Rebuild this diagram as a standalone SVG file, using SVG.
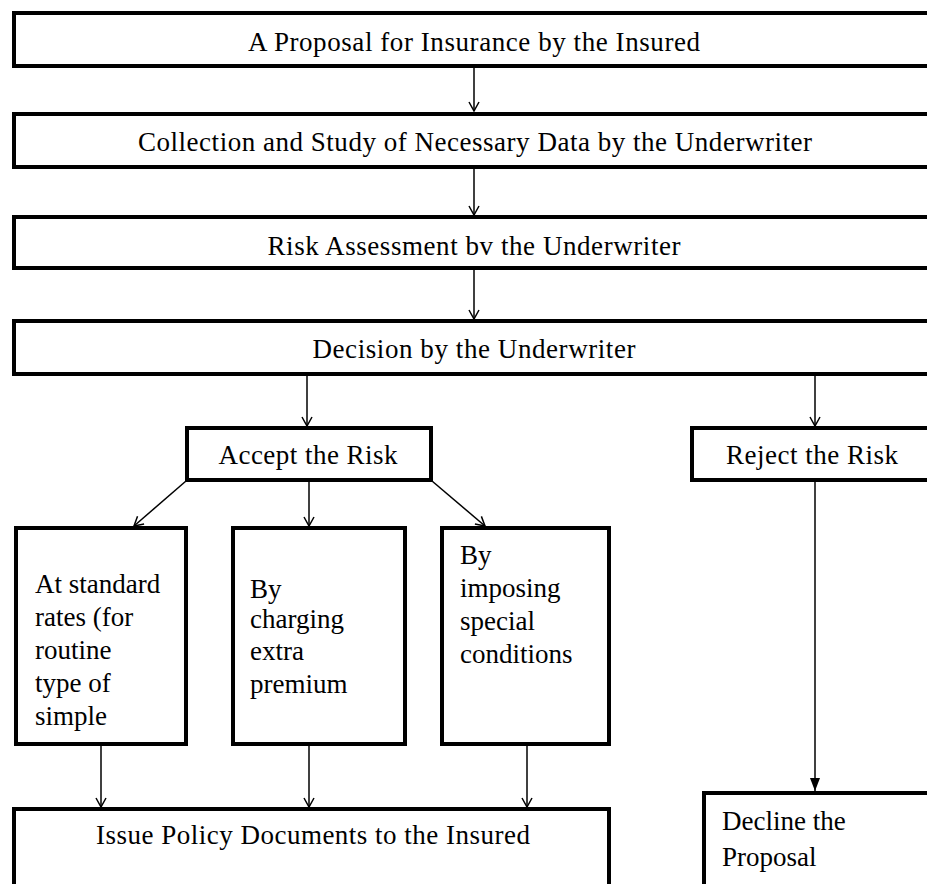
<svg xmlns="http://www.w3.org/2000/svg" width="927" height="884" viewBox="0 0 927 884">
<style>
.box{fill:#fff;stroke:#000;stroke-width:4}
.t{font-family:"Liberation Serif","Times New Roman",serif;font-size:27px;fill:#000}
.c{text-anchor:middle}
.ln{stroke:#000;stroke-width:1.5;fill:none}
</style>
<defs>
<marker id="ah" markerWidth="12" markerHeight="12" refX="11" refY="6" orient="auto" markerUnits="userSpaceOnUse" viewBox="0 0 12 12">
<path d="M2,1 L11,6 L2,11" fill="none" stroke="#000" stroke-width="1.5"/>
</marker>
<marker id="ahf" markerWidth="14" markerHeight="12" refX="13" refY="6" orient="auto" markerUnits="userSpaceOnUse" viewBox="0 0 14 12">
<path d="M0,1 L13,6 L0,11 Z" fill="#000"/>
</marker>
</defs>
<rect width="927" height="884" fill="#fff"/>
<g id="connectors">
<line class="ln" x1="474" y1="67" x2="474" y2="111" marker-end="url(#ah)"/>
<line class="ln" x1="474" y1="169" x2="474" y2="215" marker-end="url(#ah)"/>
<line class="ln" x1="474" y1="270" x2="474" y2="319" marker-end="url(#ah)"/>
<line class="ln" x1="307" y1="376" x2="307" y2="426" marker-end="url(#ah)"/>
<line class="ln" x1="815" y1="376" x2="815" y2="426" marker-end="url(#ah)"/>
<line class="ln" x1="186" y1="481" x2="134" y2="526" marker-end="url(#ah)"/>
<line class="ln" x1="309" y1="482" x2="309" y2="526" marker-end="url(#ah)"/>
<line class="ln" x1="432" y1="481" x2="485" y2="526" marker-end="url(#ah)"/>
<line class="ln" x1="101" y1="746" x2="101" y2="807" marker-end="url(#ah)"/>
<line class="ln" x1="309" y1="746" x2="309" y2="807" marker-end="url(#ah)"/>
<line class="ln" x1="527" y1="746" x2="527" y2="807" marker-end="url(#ah)"/>
<line class="ln" x1="815" y1="482" x2="815" y2="791" marker-end="url(#ahf)"/>
</g>
<g id="n1"><rect class="box" x="14" y="13" width="930" height="53"/><text class="t c" x="474" y="51" textLength="452">A Proposal for Insurance by the Insured</text></g>
<g id="n2"><rect class="box" x="14" y="114" width="930" height="53"/><text class="t c" x="475" y="151" textLength="674">Collection and Study of Necessary Data by the Underwriter</text></g>
<g id="n3"><rect class="box" x="14" y="217" width="930" height="51"/><text class="t c" x="474" y="255" textLength="413">Risk Assessment bv the Underwriter</text></g>
<g id="n4"><rect class="box" x="14" y="321" width="930" height="53"/><text class="t c" x="474" y="358" textLength="323">Decision by the Underwriter</text></g>
<g id="accept"><rect class="box" x="187" y="428" width="244" height="52"/><text class="t c" x="308" y="464" textLength="179">Accept the Risk</text></g>
<g id="reject"><rect class="box" x="692" y="428" width="250" height="52"/><text class="t c" x="812" y="464" textLength="172">Reject the Risk</text></g>
<g id="standard"><rect class="box" x="16" y="528" width="170" height="216"/>
<text class="t" x="35" y="593">At standard</text>
<text class="t" x="35" y="626">rates (for</text>
<text class="t" x="35" y="659">routine</text>
<text class="t" x="35" y="692">type of</text>
<text class="t" x="35" y="725">simple</text></g>
<g id="extra"><rect class="box" x="233" y="528" width="172" height="216"/>
<text class="t" x="250" y="598">By</text>
<text class="t" x="250" y="628">charging</text>
<text class="t" x="250" y="660">extra</text>
<text class="t" x="250" y="693">premium</text></g>
<g id="special"><rect class="box" x="442" y="528" width="167" height="216"/>
<text class="t" x="460" y="564">By</text>
<text class="t" x="460" y="597">imposing</text>
<text class="t" x="460" y="630">special</text>
<text class="t" x="460" y="663">conditions</text></g>
<g id="issue"><rect class="box" x="14" y="809" width="595" height="90"/><text class="t c" x="313" y="844" textLength="434">Issue Policy Documents to the Insured</text></g>
<g id="decline"><rect class="box" x="704" y="793" width="240" height="100"/>
<text class="t" x="722" y="830">Decline the</text>
<text class="t" x="722" y="866">Proposal</text></g>
</svg>
